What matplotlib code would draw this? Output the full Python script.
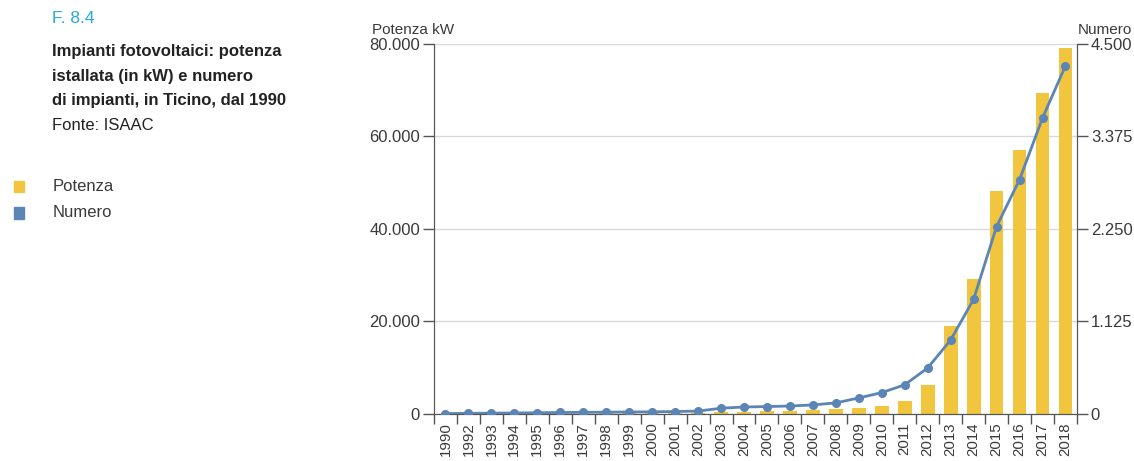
import matplotlib
matplotlib.use('Agg')
import matplotlib.pyplot as plt
import matplotlib.font_manager as fm
import numpy as np

# Data
years = ['1990', '1992', '1993', '1994', '1995', '1996', '1997', '1998', '1999', '2000',
         '2001', '2002', '2003', '2004', '2005', '2006', '2007', '2008', '2009', '2010',
         '2011', '2012', '2013', '2014', '2015', '2016', '2017', '2018']
potenza = np.array([20, 30, 40, 50, 60, 80, 100, 120, 150, 170,
                    200, 250, 400, 480, 550, 650, 850, 1000, 1400, 1800,
                    2800, 6300, 19100, 29200, 48300, 57100, 69300, 79100])
numero = np.array([5, 8, 10, 12, 15, 18, 20, 22, 24, 26,
                   30, 35, 70, 85, 90, 97, 110, 135, 195, 260,
                   355, 560, 900, 1395, 2280, 2850, 3600, 4235])

left_ticks = [0, 20000, 40000, 60000, 80000]
left_labels = ['0', '20.000', '40.000', '60.000', '80.000']
right_ticks = [0, 1125, 2250, 3375, 4500]
right_labels = ['0', '1.125', '2.250', '3.375', '4.500']

names = {f.name for f in fm.fontManager.ttflist}
font = 'Liberation Sans Narrow' if 'Liberation Sans Narrow' in names else 'Liberation Sans'
plt.rcParams['font.family'] = [font, 'DejaVu Sans']

yellow = '#F1C53E'
blue = '#5B85B5'
txt = '#3a3a3a'
axc = '#555555'

fig = plt.figure(figsize=(11.34, 4.61), dpi=100)
ax = fig.add_axes([0.3827, 0.1020, 0.5670, 0.8026])
x = np.arange(len(years))

ax.bar(x, potenza, 0.6, color=yellow, zorder=2)
ax.set_xlim(-0.5, len(years) - 0.5)
ax.set_ylim(0, 80000)
ax.set_yticks(left_ticks)
ax.set_yticklabels(left_labels)
ax.grid(axis='y', color='#d9d9d9', linewidth=1, zorder=0)
ax.set_xticks(x)
ax.set_xticklabels(years, rotation=90)
ax.set_xticks(np.arange(-0.5, len(years), 1), minor=True)
ax.tick_params(axis='x', which='major', length=0, pad=6, labelsize=10.8, colors=txt)
ax.tick_params(axis='x', which='minor', length=7, width=1, color=axc)
ax.tick_params(axis='y', length=8, width=1, color=axc, labelsize=12, labelcolor=txt, pad=2)
ax.spines['top'].set_visible(False)
for s in ['left', 'right', 'bottom']:
    ax.spines[s].set_color(axc)

ax2 = ax.twinx()
ax2.plot(x, numero, color=blue, linewidth=2, marker='o', markersize=5.5, zorder=3)
ax2.set_ylim(0, 4500)
ax2.set_yticks(right_ticks)
ax2.set_yticklabels(right_labels)
ax2.tick_params(axis='y', length=8, width=1, color=axc, labelsize=12, labelcolor=txt, pad=2)
ax2.spines['top'].set_visible(False)
for s in ['left', 'right', 'bottom']:
    ax2.spines[s].set_color(axc)

fig.text(0.328, 0.935, 'Potenza kW', fontsize=11, color=txt, ha='left', va='center')
fig.text(0.9505, 0.935, 'Numero', fontsize=11, color=txt, ha='left', va='center')

# title block
fig.text(0.046, 0.96, 'F. 8.4', fontsize=12.5, color='#2AA9DF', va='center')
title_lines = ['Impianti fotovoltaici: potenza', 'istallata (in kW) e numero',
               'di impianti, in Ticino, dal 1990']
for i, line in enumerate(title_lines):
    fig.text(0.046, 0.888 - i * 0.053, line, fontsize=12, fontweight='bold',
             color='#222222', va='center')
fig.text(0.046, 0.727, 'Fonte: ISAAC', fontsize=12, color='#222222', va='center')

# legend
for i, (lab, c) in enumerate([('Potenza', yellow), ('Numero', blue)]):
    yy = 0.595 - i * 0.057
    fig.patches.append(plt.Rectangle((0.012, yy - 0.012), 0.009, 0.024, color=c,
                                     transform=fig.transFigure, figure=fig))
    fig.text(0.046, yy, lab, fontsize=12, color=txt, va='center')

fig.savefig('out.png', dpi=100)
